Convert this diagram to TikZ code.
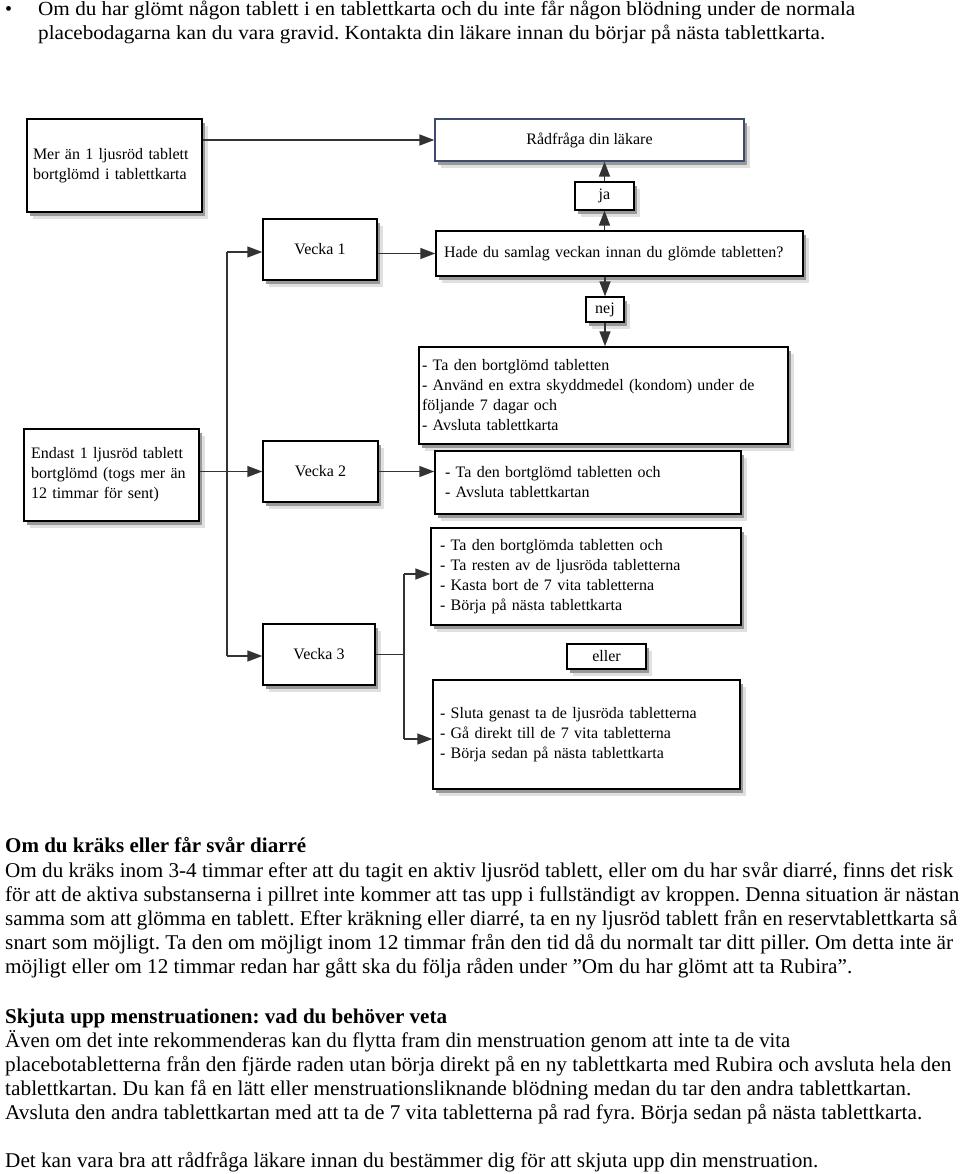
\documentclass[tikz,border=0pt]{standalone}
\usepackage{fontspec}
\setmainfont{Liberation Serif}
\usetikzlibrary{arrows.meta,shadows,calc}
\frenchspacing
\newcommand\fl[2]{\resizebox{#1pt}{\height}{#2}}
\tikzset{
  shad/.style={general shadow={shadow xshift=6pt,shadow yshift=-7pt,fill=black!12},
               general shadow={shadow xshift=3pt,shadow yshift=-4pt,fill=black!40}},
  bx/.style={shad,draw=black,line width=1.5pt,fill=white,inner ysep=0pt,
             font=\fontsize{16}{20}\selectfont,align=left},
  sbx/.style={bx,inner xsep=0pt,align=center,line width=1.2pt},
  conn/.style={draw=black!80,line width=1.5pt,-{Triangle[length=15pt,width=11pt]}},
  plain/.style={draw=black!80,line width=1.5pt},
  bl/.style={anchor=base west,inner sep=0pt,font=\fontsize{21}{24}\selectfont},
}
\begin{document}
\begin{tikzpicture}[x=1pt,y=-1pt]
\useasboundingbox (0,0) rectangle (960,1174);
\fill[white] (0,0) rectangle (960,1174);

% top bullet text
\node[bl,font=\fontsize{20}{24}\selectfont] (bul) at (5,16) {•};
\node[bl,font=\fontsize{20}{24}\selectfont] (t1a) at (38,16) {\fl{817}{Om du har glömt någon tablett i en tablettkarta och du inte får någon blödning under de normala}};
\node[bl,font=\fontsize{20}{24}\selectfont] (t1b) at (38,40) {\fl{787}{placebodagarna kan du vara gravid. Kontakta din läkare innan du börjar på nästa tablettkarta.}};

% diagram boxes
\node[bx,text width=163pt,inner xsep=6pt,minimum height=93pt] (mer) at (114.5,165.5)
  {Mer än 1 ljusröd tablett\\bortglömd i tablettkarta};
\node[bx,align=center,minimum width=309pt,minimum height=42pt,draw={rgb,255:red,60;green,75;blue,110},line width=1.3pt] (rad) at (589.5,140)
  {Rådfråga din läkare};
\node[sbx,minimum width=59pt,minimum height=28pt] (ja) at (604.5,196) {ja};
\node[bx,text width=351pt,inner xsep=8pt,minimum height=45pt] (hade) at (619.5,253.5)
  {Hade du samlag veckan innan du glömde tabletten?};
\node[sbx,minimum width=38pt,minimum height=25pt] (nej) at (605,309.5) {nej};
\node[bx,text width=363pt,inner xsep=3pt,minimum height=97pt] (b1) at (603.5,395.5)
  {- Ta den bortglömd tabletten\\- Använd en extra skyddmedel (kondom) under de\\följande 7 dagar och\\- Avsluta tablettkarta};
\node[bx,text width=286pt,inner xsep=10pt,minimum height=63pt] (b2) at (588,482.5)
  {- Ta den bortglömd tabletten och\\- Avsluta tablettkartan\\[3pt]};
\node[bx,text width=292pt,inner xsep=9pt,minimum height=97pt] (b3) at (586,576.5)
  {- Ta den bortglömda tabletten och\\- Ta resten av de ljusröda tabletterna\\- Kasta bort de 7 vita tabletterna\\- Börja på nästa tablettkarta};
\node[sbx,minimum width=79pt,minimum height=25pt] (eller) at (606.5,656.5) {eller};
\node[bx,text width=293pt,inner xsep=7pt,minimum height=109pt] (b4) at (586.5,734.5)
  {- Sluta genast ta de ljusröda tabletterna\\- Gå direkt till de 7 vita tabletterna\\- Börja sedan på nästa tablettkarta};
\node[bx,text width=161pt,inner xsep=7pt,minimum height=92pt] (end) at (111.5,475)
  {Endast 1 ljusröd tablett\\bortglömd (togs mer än\\12 timmar för sent)};
\node[sbx,minimum width=114pt,minimum height=61pt,line width=1.5pt] (v1) at (320,249.5) {Vecka 1};
\node[sbx,minimum width=115pt,minimum height=61pt,line width=1.5pt] (v2) at (320.5,471.5) {Vecka 2};
\node[sbx,minimum width=112pt,minimum height=61pt,line width=1.5pt] (v3) at (319,654.5) {Vecka 3};

% connectors
\draw[conn] (mer.east |- rad.west) -- (rad.west);
\draw[conn] (v1.east |- hade.west) -- (hade.west);
\draw[conn] (ja.south |- hade.north) -- (ja.south);
\draw[conn] (ja.north) -- (ja.north |- rad.south);
\draw[conn] (nej.north |- hade.south) -- (nej.north);
\draw[conn] (nej.south) -- (nej.south |- b1.north);
\coordinate (tr1) at (227,252);
\coordinate (tr3) at (227,656);
\draw[plain] (tr1) -- (tr3);
\draw[conn] (tr1) -- (tr1 -| v1.west);
\draw[conn] (tr3) -- (tr3 -| v3.west);
\draw[conn] (end.east |- v2.west) -- (v2.west);
\draw[conn] (v2.east) -- (v2.east -| b2.west);
\coordinate (f3) at (404,574);
\coordinate (f4) at (404,739);
\draw[plain] (f3) -- (f4);
\draw[plain] (v3.east) -- (v3.east -| f3);
\draw[conn] (f3) -- (f3 -| b3.west);
\draw[conn] (f4) -- (f4 -| b4.west);

% body text
\node[bl] (h1) at (5,852) {\fl{301}{\bfseries Om du kräks eller får svår diarré}};
\node[bl] (p1) at (5,877) {\fl{948}{Om du kräks inom 3-4 timmar efter att du tagit en aktiv ljusröd tablett, eller om du har svår diarré, finns det risk}};
\node[bl] (p2) at (5,901) {\fl{954}{för att de aktiva substanserna i pillret inte kommer att tas upp i fullständigt av kroppen. Denna situation är nästan}};
\node[bl] (p3) at (5,925) {\fl{952}{samma som att glömma en tablett. Efter kräkning eller diarré, ta en ny ljusröd tablett från en reservtablettkarta så}};
\node[bl] (p4) at (5,949) {\fl{948}{snart som möjligt. Ta den om möjligt inom 12 timmar från den tid då du normalt tar ditt piller. Om detta inte är}};
\node[bl] (p5) at (5,973) {\fl{847}{möjligt eller om 12 timmar redan har gått ska du följa råden under ”Om du har glömt att ta Rubira”.}};

\node[bl] (h2) at (5,1023) {\fl{442}{\bfseries Skjuta upp menstruationen: vad du behöver veta}};
\node[bl] (q1) at (5,1047) {\fl{785}{Även om det inte rekommenderas kan du flytta fram din menstruation genom att inte ta de vita}};
\node[bl] (q2) at (5,1071) {\fl{946}{placebotabletterna från den fjärde raden utan börja direkt på en ny tablettkarta med Rubira och avsluta hela den}};
\node[bl] (q3) at (5,1095) {\fl{906}{tablettkartan. Du kan få en lätt eller menstruationsliknande blödning medan du tar den andra tablettkartan.}};
\node[bl] (q4) at (5,1119) {\fl{917}{Avsluta den andra tablettkartan med att ta de 7 vita tabletterna på rad fyra. Börja sedan på nästa tablettkarta.}};
\node[bl] (q5) at (5,1167) {\fl{813}{Det kan vara bra att rådfråga läkare innan du bestämmer dig för att skjuta upp din menstruation.}};
\end{tikzpicture}
\end{document}
